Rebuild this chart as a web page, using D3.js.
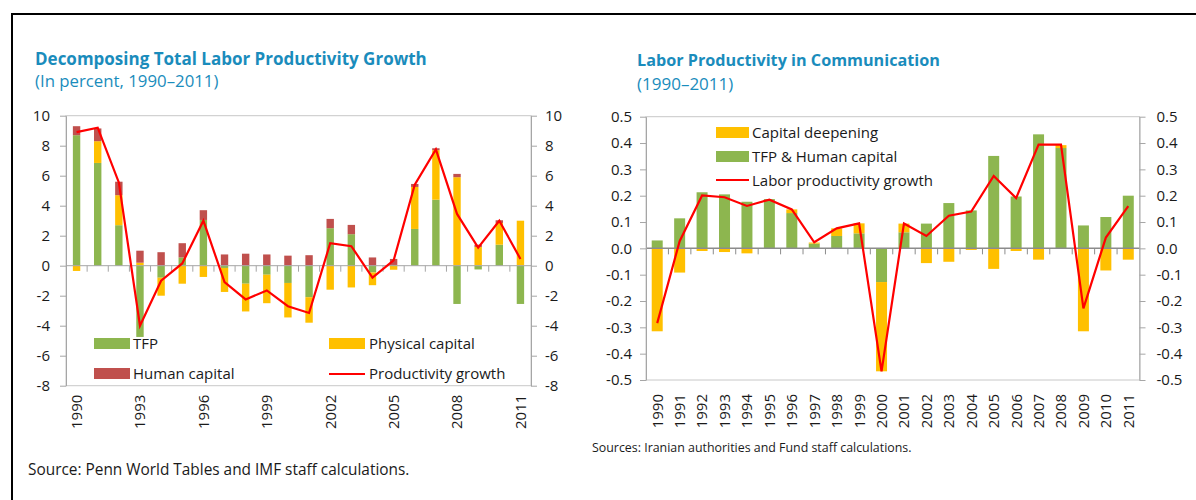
<!DOCTYPE html>
<html>
<head>
<meta charset="utf-8">
<script src="https://cdn.jsdelivr.net/npm/d3@7"></script>
<style>
  body { margin: 0; background: #fff; }
  text { font-family: "Open Sans", sans-serif; fill: #1a1a1a; }
</style>
</head>
<body>
<div id="chart"></div>
<script>
// categories
var years = ["1990","1991","1992","1993","1994","1995","1996","1997","1998","1999","2000",
             "2001","2002","2003","2004","2005","2006","2007","2008","2009","2010","2011"];

// left chart: decomposing total labor productivity growth (percent)
var tfp      = [8.7, 6.85, 2.7, -4.75, -0.8, 0.55, 3.05, -0.15, -1.2, -0.6, -1.15,
                -2.1, 2.5, 2.1, -0.45, 0.05, 2.45, 4.4, -2.55, -0.25, 1.4, -2.55];
var physCap  = [-0.35, 1.45, 2.0, 0.2, -1.2, -1.2, -0.75, -1.6, -1.85, -1.9, -2.3,
                -1.7, -1.6, -1.45, -0.85, -0.27, 2.8, 3.3, 5.9, 1.25, 1.45, 3.0];
var humanCap = [0.6, 0.85, 0.9, 0.8, 0.9, 0.95, 0.65, 0.75, 0.8, 0.75, 0.67,
                0.7, 0.62, 0.62, 0.55, 0.4, 0.2, 0.13, 0.22, 0.15, 0.18, 0];
var prodGrowth = [8.9, 9.2, 5.55, -4.0, -1.0, 0.15, 3.0, -1.1, -2.25, -1.65, -2.7,
                  -3.15, 1.5, 1.3, -0.8, 0.35, 5.4, 7.75, 3.45, 1.2, 3.0, 0.45];
var leftTicks = [-8, -6, -4, -2, 0, 2, 4, 6, 8, 10];
var leftYearLabels = ["1990","1993","1996","1999","2002","2005","2008","2011"];

// right chart: labor productivity in communication
var commTfp = [0.030, 0.114, 0.213, 0.205, 0.177, 0.187, 0.134, 0.018, 0.047, 0.057, -0.128,
               0.061, 0.094, 0.172, 0.144, 0.351, 0.197, 0.433, 0.381, 0.087, 0.119, 0.200];
var commCap = [-0.315, -0.092, -0.010, -0.014, -0.019, -0.002, 0.014, 0.004, 0.029, 0.038, -0.339,
               0.033, -0.056, -0.051, -0.006, -0.078, -0.010, -0.043, 0.011, -0.315, -0.084, -0.043];
var commGrowth = [-0.284, 0.027, 0.201, 0.194, 0.161, 0.185, 0.148, 0.023, 0.076, 0.095, -0.467,
                  0.094, 0.047, 0.124, 0.140, 0.275, 0.191, 0.394, 0.394, -0.228, 0.041, 0.160];
var rightTicks = [-0.5, -0.4, -0.3, -0.2, -0.1, 0, 0.1, 0.2, 0.3, 0.4, 0.5];

var green = "#8db64f", yellow = "#ffc000", darkRed = "#c0504d", lineRed = "#ff0000";
var axisGray = "#a6a6a6", titleBlue = "#1a8cbc";

var svg = d3.select("#chart")
  .append("svg")
    .attr("width", 1196)
    .attr("height", 500);

// black frame
svg.append("path")
  .attr("d", "M12,500 V14 H1196")
  .attr("fill", "none")
  .attr("stroke", "#000")
  .attr("stroke-width", 2);

function hyphen(s) { return String(s).replace("\u2212", "-"); }

// ---------- left chart ----------
var L = {x0: 66, x1: 531, top: 115.7, bottom: 385.7};

svg.append("text").attr("x", 35).attr("y", 65)
  .style("font-weight", "bold").style("font-size", "17px").style("fill", titleBlue)
  .text("Decomposing Total Labor Productivity Growth");
svg.append("text").attr("x", 35).attr("y", 87)
  .style("font-size", "16.8px").style("fill", titleBlue)
  .text("(In percent, 1990\u20132011)");

var xL = d3.scaleBand().domain(years).range([L.x0, L.x1]).padding(0);
var yL = d3.scaleLinear().domain([-8, 10]).range([L.bottom, L.top]);

var gL = svg.append("g");

gL.append("rect")
  .attr("x", L.x0).attr("y", L.top)
  .attr("width", L.x1 - L.x0).attr("height", L.bottom - L.top)
  .attr("fill", "none").attr("stroke", "#c8c8c8");

var leftRows = years.map(function(yr, i) {
  return {year: yr, tfp: tfp[i], phys: physCap[i], human: humanCap[i]};
});
var leftStack = d3.stack()
  .keys(["tfp", "phys", "human"])
  .offset(d3.stackOffsetDiverging)(leftRows);
var leftColors = {tfp: green, phys: yellow, human: darkRed};
var bwL = xL.bandwidth() * 0.35;

gL.selectAll("g.series")
  .data(leftStack)
  .enter()
  .append("g")
    .attr("fill", d => leftColors[d.key])
  .selectAll("rect")
  .data(d => d)
  .enter()
  .append("rect")
    .attr("x", d => xL(d.data.year) + (xL.bandwidth() - bwL) / 2)
    .attr("y", d => yL(Math.max(d[0], d[1])))
    .attr("width", bwL)
    .attr("height", d => Math.abs(yL(d[0]) - yL(d[1])));

// zero line and category ticks
gL.append("line")
  .attr("x1", L.x0).attr("x2", L.x1)
  .attr("y1", yL(0)).attr("y2", yL(0))
  .attr("stroke", axisGray);
gL.selectAll("line.xtick")
  .data(years.slice(1))
  .enter()
  .append("line")
    .attr("class", "xtick")
    .attr("x1", d => xL(d)).attr("x2", d => xL(d))
    .attr("y1", yL(0)).attr("y2", yL(0) + 6)
    .attr("stroke", axisGray);

gL.append("path")
  .datum(prodGrowth)
  .attr("fill", "none")
  .attr("stroke", lineRed)
  .attr("stroke-width", 2.2)
  .attr("d", d3.line()
    .x((d, i) => xL(years[i]) + xL.bandwidth() / 2)
    .y(d => yL(d)));

gL.append("g")
  .attr("transform", "translate(" + L.x0 + ",0)")
  .call(d3.axisLeft(yL).tickValues(leftTicks).tickSize(6).tickSizeOuter(0).tickPadding(10).tickFormat(hyphen));
gL.append("g")
  .attr("transform", "translate(" + L.x1 + ",0)")
  .call(d3.axisRight(yL).tickValues(leftTicks).tickSize(6).tickSizeOuter(0).tickPadding(8).tickFormat(hyphen));
var axB = gL.append("g")
  .attr("transform", "translate(0," + L.bottom + ")")
  .call(d3.axisBottom(xL).tickValues(leftYearLabels).tickSize(0));
axB.select(".domain").remove();
axB.selectAll("text")
  .attr("transform", "rotate(-90)")
  .attr("x", -9).attr("y", 0).attr("dy", "0.36em")
  .style("text-anchor", "end");

// legend
var legL = gL.append("g");
legL.append("rect").attr("x", 94).attr("y", 338).attr("width", 36).attr("height", 11).attr("fill", green);
legL.append("text").attr("x", 133).attr("y", 349).text("TFP");
legL.append("rect").attr("x", 94).attr("y", 368).attr("width", 36).attr("height", 11).attr("fill", darkRed);
legL.append("text").attr("x", 133).attr("y", 379).text("Human capital");
legL.append("rect").attr("x", 329).attr("y", 338).attr("width", 36).attr("height", 11).attr("fill", yellow);
legL.append("text").attr("x", 369).attr("y", 349).text("Physical capital");
legL.append("line").attr("x1", 329).attr("x2", 365).attr("y1", 374).attr("y2", 374)
  .attr("stroke", lineRed).attr("stroke-width", 2.2);
legL.append("text").attr("x", 369).attr("y", 379).text("Productivity growth");

svg.append("text").attr("x", 28).attr("y", 475)
  .style("font-size", "15.4px")
  .text("Source: Penn World Tables and IMF staff calculations.");

// ---------- right chart ----------
var R = {x0: 646, x1: 1139.5, top: 116.7, bottom: 380};

svg.append("text").attr("x", 637).attr("y", 66)
  .style("font-weight", "bold").style("font-size", "16.2px").style("fill", titleBlue)
  .text("Labor Productivity in Communication");
svg.append("text").attr("x", 637).attr("y", 90)
  .style("font-size", "17px").style("fill", titleBlue)
  .text("(1990\u20132011)");

var xR = d3.scaleBand().domain(years).range([R.x0, R.x1]).padding(0);
var yR = d3.scaleLinear().domain([-0.5, 0.5]).range([R.bottom, R.top]);

var gR = svg.append("g");

gR.append("rect")
  .attr("x", R.x0).attr("y", R.top)
  .attr("width", R.x1 - R.x0).attr("height", R.bottom - R.top)
  .attr("fill", "none").attr("stroke", "#c8c8c8");

var rightRows = years.map(function(yr, i) {
  return {year: yr, tfp: commTfp[i], cap: commCap[i]};
});
var rightStack = d3.stack()
  .keys(["tfp", "cap"])
  .offset(d3.stackOffsetDiverging)(rightRows);
var rightColors = {tfp: green, cap: yellow};
var bwR = xR.bandwidth() * 0.49;

gR.selectAll("g.series")
  .data(rightStack)
  .enter()
  .append("g")
    .attr("fill", d => rightColors[d.key])
  .selectAll("rect")
  .data(d => d)
  .enter()
  .append("rect")
    .attr("x", d => xR(d.data.year) + (xR.bandwidth() - bwR) / 2)
    .attr("y", d => yR(Math.max(d[0], d[1])))
    .attr("width", bwR)
    .attr("height", d => Math.abs(yR(d[0]) - yR(d[1])));

gR.append("line")
  .attr("x1", R.x0).attr("x2", R.x1)
  .attr("y1", yR(0)).attr("y2", yR(0))
  .attr("stroke", "#8c8c8c").attr("stroke-width", 1.5);
gR.selectAll("line.xtick")
  .data(years.slice(1))
  .enter()
  .append("line")
    .attr("class", "xtick")
    .attr("x1", d => xR(d)).attr("x2", d => xR(d))
    .attr("y1", yR(0)).attr("y2", yR(0) + 6)
    .attr("stroke", "#8c8c8c");

gR.append("path")
  .datum(commGrowth)
  .attr("fill", "none")
  .attr("stroke", lineRed)
  .attr("stroke-width", 2.2)
  .attr("d", d3.line()
    .x((d, i) => xR(years[i]) + xR.bandwidth() / 2)
    .y(d => yR(d)));

var fmtR = d => hyphen(d3.format(".1f")(d));
gR.append("g")
  .attr("transform", "translate(" + R.x0 + ",0)")
  .call(d3.axisLeft(yR).tickValues(rightTicks).tickSize(6).tickSizeOuter(0).tickPadding(8).tickFormat(fmtR));
gR.append("g")
  .attr("transform", "translate(" + R.x1 + ",0)")
  .call(d3.axisRight(yR).tickValues(rightTicks).tickSize(6).tickSizeOuter(0).tickPadding(11).tickFormat(fmtR));
var axBR = gR.append("g")
  .attr("transform", "translate(0," + R.bottom + ")")
  .call(d3.axisBottom(xR).tickSize(0));
axBR.select(".domain").remove();
axBR.selectAll("text")
  .attr("transform", "rotate(-90)")
  .attr("x", -14).attr("y", 0).attr("dy", "0.36em")
  .style("text-anchor", "end");

var legR = gR.append("g");
legR.append("rect").attr("x", 716).attr("y", 127).attr("width", 33).attr("height", 11).attr("fill", yellow);
legR.append("text").attr("x", 752).attr("y", 138).text("Capital deepening");
legR.append("rect").attr("x", 716).attr("y", 151).attr("width", 33).attr("height", 11).attr("fill", green);
legR.append("text").attr("x", 752).attr("y", 162).text("TFP & Human capital");
legR.append("line").attr("x1", 716).attr("x2", 749).attr("y1", 180).attr("y2", 180)
  .attr("stroke", lineRed).attr("stroke-width", 2.2);
legR.append("text").attr("x", 752).attr("y", 186).text("Labor productivity growth");

svg.append("text").attr("x", 592).attr("y", 452)
  .style("font-size", "12.4px")
  .text("Sources: Iranian authorities and Fund staff calculations.");

// common axis styling
svg.selectAll(".domain, .tick line").attr("stroke", axisGray);
svg.selectAll(".tick text").style("font-size", "15px").style("fill", "#1a1a1a")
  .style("font-family", "'Open Sans', sans-serif");
legL.selectAll("text").style("font-size", "15px");
legR.selectAll("text").style("font-size", "15px");
</script>
</body>
</html>
